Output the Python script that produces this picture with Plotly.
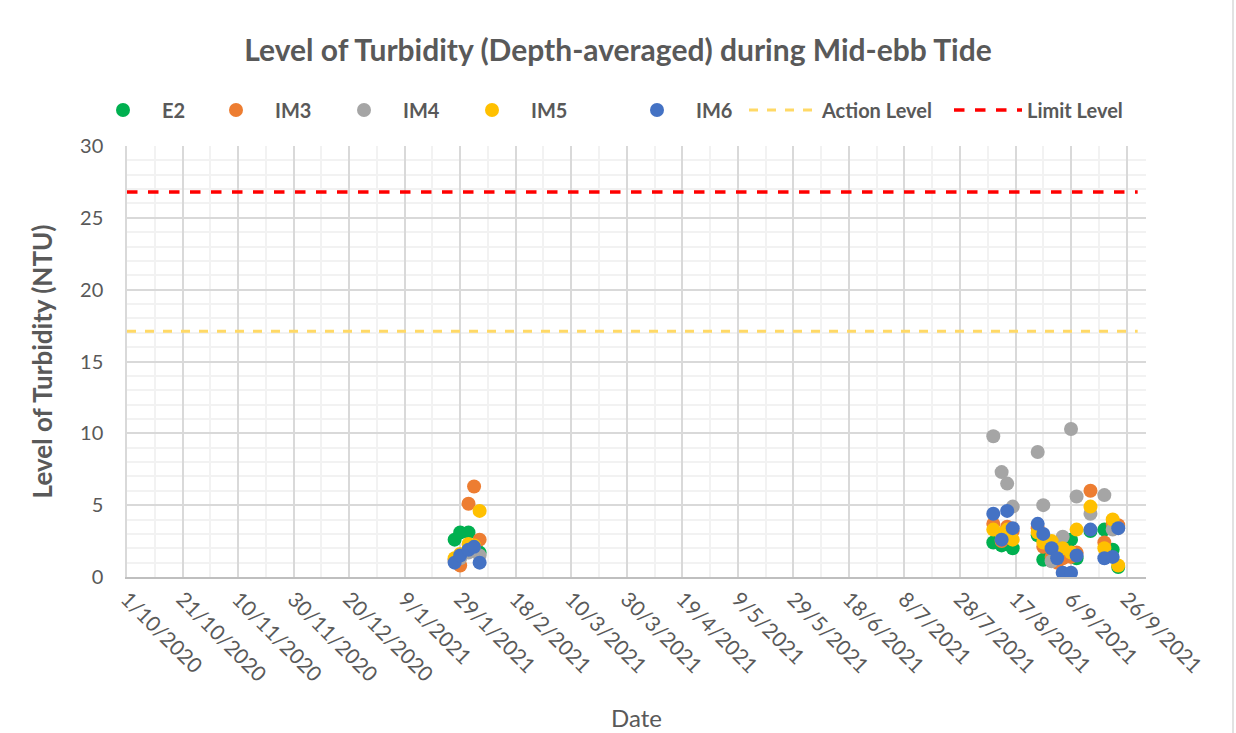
import plotly.graph_objects as go

# Sampling dates (two monitoring periods)
dates = [
    "2021-01-27", "2021-01-29", "2021-02-01", "2021-02-03", "2021-02-05",
    "2021-08-09", "2021-08-12", "2021-08-14", "2021-08-16",
    "2021-08-25", "2021-08-27", "2021-08-30", "2021-09-01", "2021-09-03",
    "2021-09-06", "2021-09-08", "2021-09-13", "2021-09-18", "2021-09-21",
    "2021-09-23",
]

# Depth-averaged turbidity (NTU) per monitoring station
e2 = [2.6, 3.1, 3.1, 2.0, 1.7,
      2.4, 2.2, 2.3, 2.0,
      2.9, 1.2, 1.8, 1.5, 2.4,
      2.6, 1.3, 3.2, 3.3, 1.9,
      0.7]
im3 = [1.2, 0.8, 5.1, 6.3, 2.6,
       3.7, 2.5, 3.5, 3.2,
       3.4, 2.1, 1.4, 1.0, 1.3,
       1.4, 1.7, 6.0, 2.4, 3.7,
       3.6]
im4 = [1.1, 1.3, 1.7, 1.8, 1.5,
       9.8, 7.3, 6.5, 4.9,
       8.7, 5.0, 1.1, 2.0, 2.8,
       10.3, 5.6, 4.4, 5.7, 3.3,
       3.4]
im5 = [1.3, 1.6, 2.3, 2.2, 4.6,
       3.3, 3.0, 3.3, 2.6,
       3.1, 2.4, 2.5, 1.7, 2.0,
       1.7, 3.3, 4.9, 2.0, 4.0,
       0.8]
im6 = [1.0, 1.5, 1.9, 2.1, 1.0,
       4.4, 2.6, 4.6, 3.4,
       3.7, 3.0, 2.0, 1.3, 0.3,
       0.3, 1.5, 3.3, 1.3, 1.4,
       3.4]

# Compliance levels
level_dates = ["2020-10-01", "2021-09-30"]
action_level = 17.1
limit_level = 26.8

stations = ["E2", "IM3", "IM4", "IM5", "IM6"]
station_values = [e2, im3, im4, im5, im6]
station_colors = ["#00B050", "#ED7D31", "#A5A5A5", "#FFC000", "#4472C4"]

FONT = "Lato, 'Liberation Sans', sans-serif"
TEXT = "#595959"
W, H = 1236, 733

# left edge (px) of each legend entry, one legend per trace
legend_left = [84, 197, 325, 453, 618, 744, 949]

fig = go.Figure()

for i, (name, vals, col) in enumerate(zip(stations, station_values, station_colors)):
    fig.add_trace(go.Scatter(
        x=dates, y=vals, mode="markers", name=name,
        marker=dict(size=14, color=col, line=dict(width=0)),
        legend="legend" if i == 0 else f"legend{i + 1}",
    ))

fig.add_trace(go.Scatter(
    x=level_dates, y=[action_level] * 2, mode="lines", name="Action Level",
    line=dict(color="#FFD966", width=3, dash="dash"), legend="legend6",
))
fig.add_trace(go.Scatter(
    x=level_dates, y=[limit_level] * 2, mode="lines", name="Limit Level",
    line=dict(color="#FF0000", width=3.5, dash="dash"), legend="legend7",
))

DAY = 86400000

legend_style = dict(
    orientation="h", xref="container", yref="container",
    y=1 - 110 / H, xanchor="left", yanchor="middle",
    font=dict(size=20, color=TEXT, family=FONT, weight="bold"),
    itemwidth=68, bgcolor="rgba(0,0,0,0)", borderwidth=0,
)
legends = {}
for i, left in enumerate(legend_left):
    key = "legend" if i == 0 else f"legend{i + 1}"
    legends[key] = dict(legend_style, x=left / W)

fig.update_layout(
    width=W, height=H,
    margin=dict(l=127, r=90, t=146, b=156, autoexpand=False),
    paper_bgcolor="white", plot_bgcolor="white",
    font=dict(family=FONT, color=TEXT, size=20),
    title=dict(
        text="<b>Level of Turbidity (Depth-averaged) during Mid-ebb Tide</b>",
        x=0.5, xanchor="center", xref="container",
        y=1 - 50 / H, yanchor="middle", yref="container",
        font=dict(size=30, color=TEXT, family=FONT),
    ),
    showlegend=True,
    **legends,
)

# thin frame line on the right edge of the chart area
fig.add_shape(type="line", xref="paper", yref="paper",
              x0=(1233 - 127) / 1019, x1=(1233 - 127) / 1019,
              y0=-156 / 431, y1=1 + 146 / 431,
              line=dict(color="#D9D9D9", width=1.5))

fig.update_xaxes(
    type="date",
    range=["2020-10-01", "2021-10-03"],
    tick0="2020-10-01", dtick=20 * DAY,
    tickformat="%-d/%-m/%Y", tickangle=45,
    tickfont=dict(size=21, color=TEXT),
    showgrid=True, gridcolor="#D9D9D9", gridwidth=1.5,
    minor=dict(dtick=10 * DAY, tick0="2020-10-01", showgrid=True,
               gridcolor="#F2F2F2", gridwidth=1.5),
    showline=True, linecolor="#BFBFBF", linewidth=1.5,
    ticks="", zeroline=False,
    title=dict(text="Date", font=dict(size=24, color=TEXT), standoff=25),
)

fig.update_yaxes(
    range=[0, 30], dtick=5, tick0=0,
    tickfont=dict(size=20, color=TEXT),
    showgrid=True, gridcolor="#D9D9D9", gridwidth=1.5,
    minor=dict(dtick=1, showgrid=True, gridcolor="#F2F2F2", gridwidth=1.5),
    showline=True, linecolor="#D9D9D9", linewidth=1.5,
    ticks="", zeroline=False, ticklabelstandoff=18,
    title=dict(text="<b>Level of Turbidity (NTU)</b>",
               font=dict(size=26, color=TEXT), standoff=20),
)

fig.write_html("out.html")
